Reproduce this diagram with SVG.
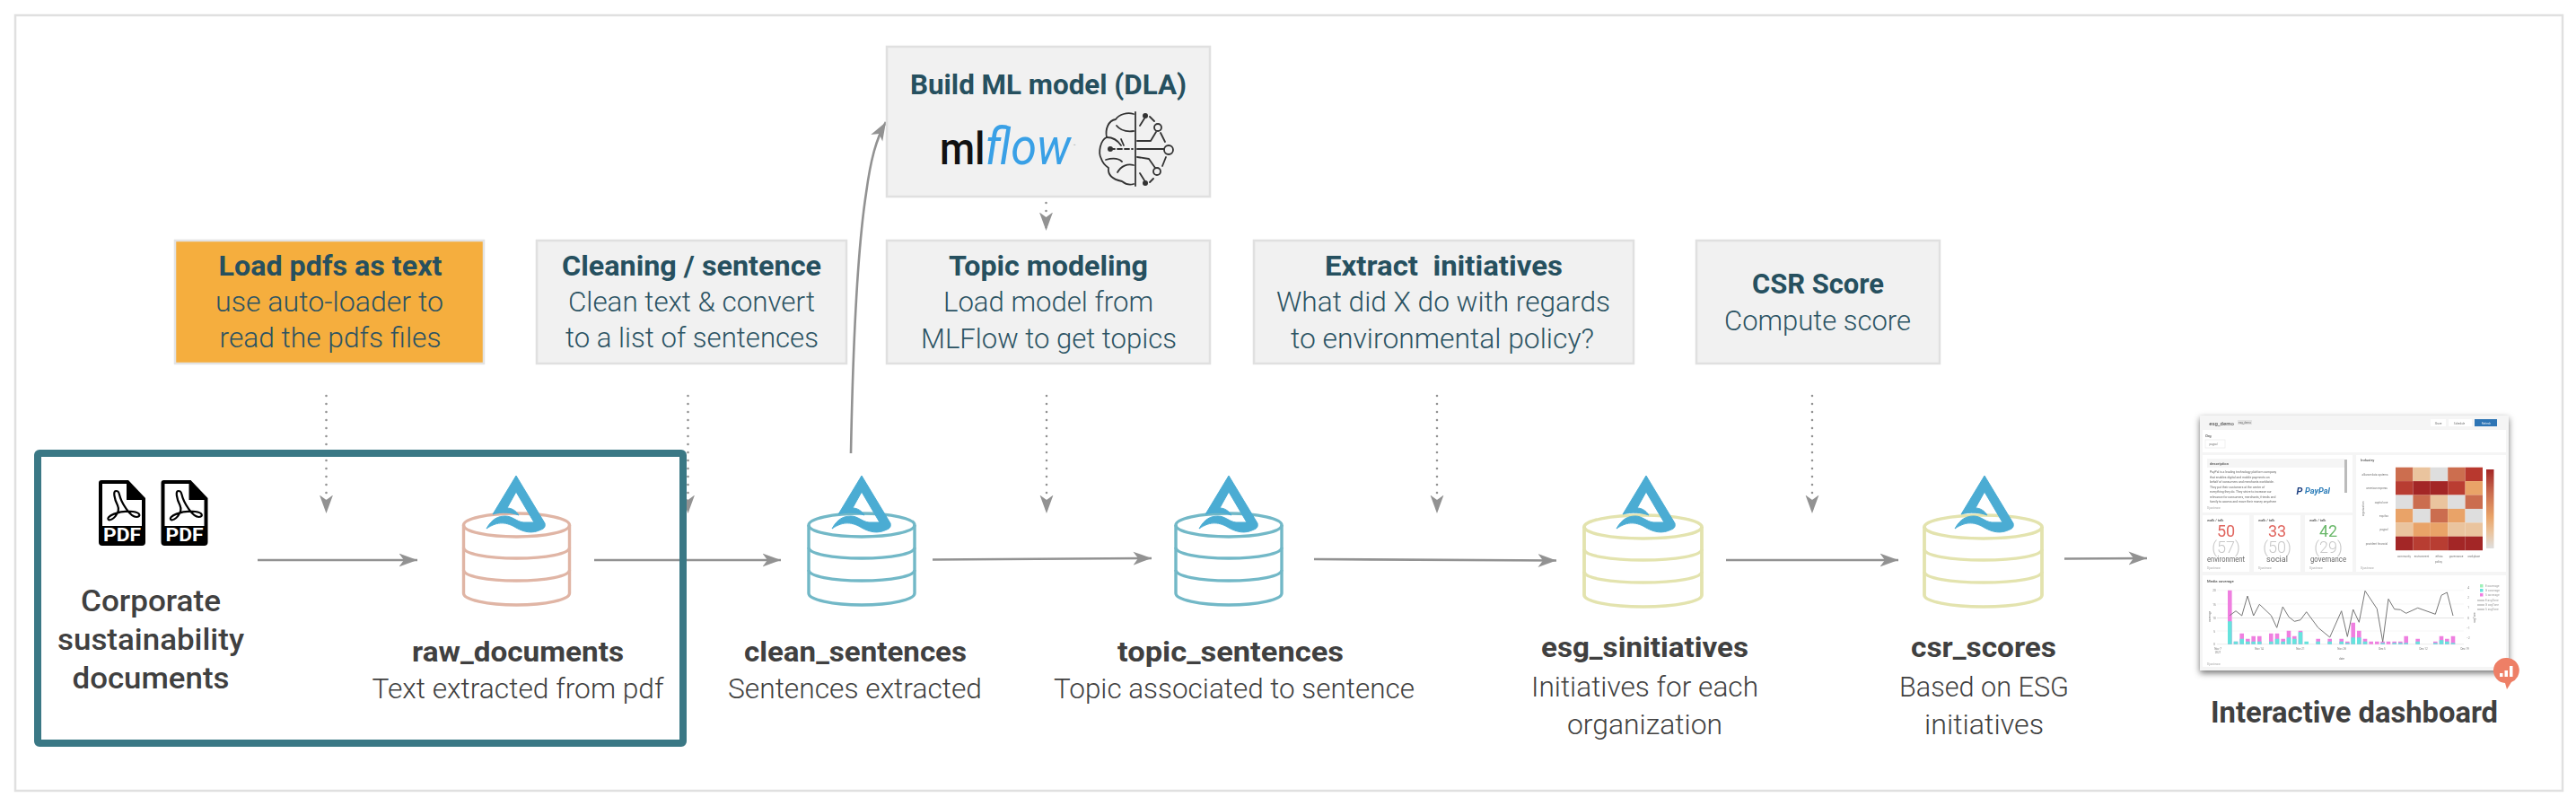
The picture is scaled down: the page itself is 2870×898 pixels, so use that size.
<svg xmlns="http://www.w3.org/2000/svg" width="2870" height="898" viewBox="0 0 2870 898">
<style>
text{font-family:Roboto,"Liberation Sans",sans-serif;text-anchor:middle}
.box{fill:#f1f1f1;stroke:#e0e0e0;stroke-width:2.5}
.t{font-size:31px;font-weight:700;fill:#26505f}
.b{font-size:31px;font-weight:300;fill:#2b5363}
.n{font-size:31px;font-weight:700;fill:#404040}
.d{font-size:31px;font-weight:300;fill:#404040}
.c{font-size:33px;font-weight:500;fill:#404040}
.solid{fill:none;stroke:#929292;stroke-width:2.6;marker-end:url(#head)}
.dot{fill:none;stroke:#929292;stroke-width:2.6;stroke-linecap:round;stroke-dasharray:0 9;marker-end:url(#head)}
.cyl{fill:none;stroke-width:3.4}
.logo{fill:#4bacd3;stroke:#4bacd3;stroke-width:1;stroke-linejoin:round}
.br{fill:none;stroke:#333;stroke-width:1.8;stroke-linecap:round;stroke-linejoin:round}
.tiny{font-size:3px;fill:#777;font-weight:400}
.lab{font-size:4.2px;fill:#555;font-weight:500;text-anchor:start}
.kp{font-size:4px;fill:#555;font-weight:500;text-anchor:start}
.nw{font-size:3.2px;fill:#999;text-anchor:start}
.desc{font-size:3.4px;fill:#666;text-anchor:start}
.kn{font-size:18px;font-weight:400}
.kg{font-size:18px;font-weight:300;fill:#c8c8c8}
.kl{font-size:9px;font-weight:400;fill:#666}
.panel{fill:#fff}
</style>
<defs>
<marker id="head" markerUnits="userSpaceOnUse" markerWidth="21" markerHeight="16" refX="20.5" refY="8" orient="auto"><path d="M0 0.5L20.5 8L0 15.5L5.5 8z" fill="#929292"/></marker>
<filter id="soft" x="-5%" y="-5%" width="110%" height="110%"><feGaussianBlur stdDeviation="0.45"/></filter>
<filter id="shot" x="-10%" y="-10%" width="120%" height="120%"><feDropShadow dx="0" dy="3" stdDeviation="3.5" flood-color="#000" flood-opacity="0.55"/></filter>
<filter id="blur" x="-2%" y="-2%" width="104%" height="104%"><feGaussianBlur stdDeviation="0.75"/></filter>
<linearGradient id="cb" x1="0" y1="0" x2="0" y2="1"><stop offset="0" stop-color="#a32525"/><stop offset="0.3" stop-color="#cb6d4f"/><stop offset="0.6" stop-color="#e9a368"/><stop offset="0.8" stop-color="#eac49e"/><stop offset="1" stop-color="#dedede"/></linearGradient>
<g id="cylinder"><ellipse cx="0" cy="0" rx="59" ry="13"/><path d="M-59 0V76C-59 83 -33 89 0 89S59 83 59 76V0"/><path d="M-59 25C-59 32 -33 37 0 37S59 32 59 25"/><path d="M-59 50C-59 57 -33 62 0 62S59 57 59 50"/></g>
<path id="lakelogo" d="M0 0L32 53C33 57 31 59 28 60C18 65 9 63 0 58C-10 52 -20 50 -33 59C-27 48 -20 45 -12 45C-4 45 0 51 8 52L20 52L0 18L-10 36C-5 36 0 39 3 44C-5 41 -16 40 -26 43Z"/>
<g id="pdf"><path d="M3 0H33L52 20V69Q52 73 48 73H4Q0 73 0 69V3Q0 0 3 0Z" fill="#000"/><path d="M4 4H31V22H48V51H4Z" fill="#fff"/><path d="M19 12C16 12 17 20 21 28C25 37 14 46 11 44C7 41 22 33 38 35C47 36 47 41 42 41C35 41 25 25 23 16C22 12 21 12 19 12Z" fill="none" stroke="#000" stroke-width="2.2"/><text x="26" y="68" font-size="21" font-weight="700" fill="#fff" textLength="42" lengthAdjust="spacingAndGlyphs">PDF</text></g>
</defs>
<rect id="frame" x="17" y="17" width="2838" height="864" fill="#fff" stroke="#e0e0e0" stroke-width="2.5"/>
<g id="connectors">
<path class="solid" d="M287 624H465"/>
<path class="solid" d="M662 624H870"/>
<path class="solid" d="M1039 623.5L1283 622"/>
<path class="solid" d="M1464 623L1734 624.5"/>
<path class="solid" d="M1923 624H2115"/>
<path class="solid" d="M2300 622.5L2392 622"/>
<path class="dot" d="M363.5 441V572"/>
<path class="dot" d="M766.5 441V572"/>
<path class="dot" d="M1166 441V572"/>
<path class="dot" d="M1601 441V572"/>
<path class="dot" d="M2019 441V572"/>
<path class="dot" d="M1165.5 226V257"/>
<path class="solid" d="M948 505C950 400 955 280 965 215C970 178 976 155 987 136"/>
</g>
<g id="step-load"><rect x="195" y="268" width="344" height="137" fill="#f5ae3e" stroke="#e3e3e3" stroke-width="2.5"/><text class="t" x="368" y="307" textLength="249" lengthAdjust="spacingAndGlyphs">Load pdfs as text</text><text class="b" x="367" y="347" textLength="254" lengthAdjust="spacingAndGlyphs">use auto-loader to</text><text class="b" x="368" y="387" textLength="247" lengthAdjust="spacingAndGlyphs">read the pdfs files</text></g>
<g id="step-clean"><rect class="box" x="598" y="268" width="345" height="137"/><text class="t" x="770.5" y="307" textLength="289" lengthAdjust="spacingAndGlyphs">Cleaning / sentence</text><text class="b" x="770.5" y="347" textLength="275" lengthAdjust="spacingAndGlyphs">Clean text &amp; convert</text><text class="b" x="771" y="387" textLength="282" lengthAdjust="spacingAndGlyphs">to a list of sentences</text></g>
<g id="step-build"><rect class="box" x="988" y="52" width="360" height="167"/><text class="t" x="1168" y="105" textLength="308" lengthAdjust="spacingAndGlyphs">Build ML model (DLA)</text>
<text x="1120" y="183" font-size="50" font-weight="500" fill="#111" textLength="146" lengthAdjust="spacingAndGlyphs">ml<tspan font-size="58" font-weight="400" font-style="italic" fill="#39a0e6">flow</tspan></text><text x="1197" y="164" font-size="5" fill="#999">™</text>
<g class="br"><path d="M1265 125V207"/><path d="M1263 127C1256 125 1247 127 1243 133C1235 134 1231 144 1233 153C1226 156 1223 170 1227 177C1229 183 1232 185 1235 187C1234 195 1240 200 1250 202C1255 206 1260 206 1263 205"/><path d="M1263 146C1255 147 1248 145 1244 140"/><path d="M1233 153C1240 153 1245 156 1249 162M1249 155L1252 162"/><path d="M1263 184C1256 182 1249 185 1245 192M1232 178C1239 176 1246 176 1250 180"/><path d="M1237 166H1262" stroke-dasharray="5 3"/><path d="M1267 166H1297"/><path d="M1267 157H1282L1288 147"/><path d="M1267 175L1280 177L1287 187"/><path d="M1270 140L1275 132M1281 130L1286 135M1293 148L1298 158M1299 175L1295 185M1285 199L1281 203M1270 193L1275 201"/><circle cx="1290" cy="142" r="4"/><circle cx="1302" cy="167" r="5"/><circle cx="1289" cy="191" r="4"/></g>
<circle cx="1276" cy="129" r="3" fill="#333"/><circle cx="1276" cy="204" r="3" fill="#333"/><circle cx="1237" cy="166" r="3" fill="#333"/></g>
<g id="step-topic"><rect class="box" x="988" y="268" width="360" height="137"/><text class="t" x="1168" y="307" textLength="222" lengthAdjust="spacingAndGlyphs">Topic modeling</text><text class="b" x="1168" y="347" textLength="234" lengthAdjust="spacingAndGlyphs">Load model from</text><text class="b" x="1168.5" y="388" textLength="285" lengthAdjust="spacingAndGlyphs">MLFlow to get topics</text></g>
<g id="step-extract"><rect class="box" x="1397" y="268" width="423" height="137"/><text class="t" x="1608.5" y="307" textLength="265" lengthAdjust="spacingAndGlyphs" xml:space="preserve">Extract  initiatives</text><text class="b" x="1608" y="347" textLength="372" lengthAdjust="spacingAndGlyphs">What did X do with regards</text><text class="b" x="1607" y="388" textLength="338" lengthAdjust="spacingAndGlyphs">to environmental policy?</text></g>
<g id="step-csr"><rect class="box" x="1890" y="268" width="271" height="137"/><text class="t" x="2025.5" y="327" textLength="147" lengthAdjust="spacingAndGlyphs">CSR Score</text><text class="b" x="2025" y="368" textLength="208" lengthAdjust="spacingAndGlyphs">Compute score</text></g>
<g id="source-docs"><use href="#pdf" x="110" y="535"/><use href="#pdf" x="179.500" y="535"/><text class="c" x="168" y="681" textLength="156" lengthAdjust="spacingAndGlyphs">Corporate</text><text class="c" x="168" y="724" textLength="208" lengthAdjust="spacingAndGlyphs">sustainability</text><text class="c" x="168" y="767" textLength="175" lengthAdjust="spacingAndGlyphs">documents</text></g>
<g id="raw_documents"><g filter="url(#soft)"><use href="#cylinder" class="cyl" stroke="#e0b5a5" transform="translate(575.500 585)"/></g><use href="#lakelogo" class="logo" x="575" y="530"/><text class="n" x="577" y="737" textLength="236" lengthAdjust="spacingAndGlyphs">raw_documents</text><text class="d" x="577" y="778" textLength="325" lengthAdjust="spacingAndGlyphs">Text extracted from pdf</text></g>
<g id="clean_sentences"><g filter="url(#soft)"><use href="#cylinder" class="cyl" stroke="#72b8c7" transform="translate(960 585)"/></g><use href="#lakelogo" class="logo" x="960" y="530"/><text class="n" x="953" y="737" textLength="248" lengthAdjust="spacingAndGlyphs">clean_sentences</text><text class="d" x="952.500" y="778" textLength="283" lengthAdjust="spacingAndGlyphs">Sentences extracted</text></g>
<g id="topic_sentences"><g filter="url(#soft)"><use href="#cylinder" class="cyl" stroke="#72b8c7" transform="translate(1369 585)"/></g><use href="#lakelogo" class="logo" x="1369" y="530"/><text class="n" x="1371" y="737" textLength="252" lengthAdjust="spacingAndGlyphs">topic_sentences</text><text class="d" x="1375" y="778" textLength="402" lengthAdjust="spacingAndGlyphs">Topic associated to sentence</text></g>
<g id="esg_sinitiatives"><g filter="url(#soft)"><use href="#cylinder" class="cyl" stroke="#e3e3ae" transform="translate(1830.500 587) scale(1.11 1)"/></g><use href="#lakelogo" class="logo" x="1834" y="530"/><text class="n" x="1832.500" y="732" textLength="231" lengthAdjust="spacingAndGlyphs">esg_sinitiatives</text><text class="d" x="1832.500" y="776" textLength="253" lengthAdjust="spacingAndGlyphs">Initiatives for each</text><text class="d" x="1832.500" y="818" textLength="173" lengthAdjust="spacingAndGlyphs">organization</text></g>
<g id="csr_scores"><g filter="url(#soft)"><use href="#cylinder" class="cyl" stroke="#e3e3ae" transform="translate(2209.500 587) scale(1.11 1)"/></g><use href="#lakelogo" class="logo" x="2211" y="530"/><text class="n" x="2210" y="732" textLength="162" lengthAdjust="spacingAndGlyphs">csr_scores</text><text class="d" x="2210.500" y="776" textLength="189" lengthAdjust="spacingAndGlyphs">Based on ESG</text><text class="d" x="2210.500" y="818" textLength="133" lengthAdjust="spacingAndGlyphs">initiatives</text></g>
<g id="dashboard">
<rect x="2451" y="463" width="344" height="284" fill="#f5f5f5" filter="url(#shot)"/>
<g filter="url(#blur)">
<text x="2475" y="474" font-size="6" font-weight="500" fill="#555">esg_demo</text>
<rect x="2493" y="468" width="16" height="5" fill="#e3e3e3"/><text class="tiny" x="2501" y="472">esg_demo</text>
<rect x="2708" y="467" width="17" height="8" fill="#fff"/><text class="tiny" x="2716.500" y="472.500">Share</text>
<rect x="2728" y="467" width="26" height="8" fill="#fff"/><text class="tiny" x="2740" y="472.500">Schedule</text>
<rect x="2757" y="467" width="25" height="8" fill="#2f74b5"/><text class="tiny" x="2770" y="472.500" style="fill:#dfe9f3">Refresh</text>
<rect class="panel" x="2454" y="479" width="338" height="25"/><text class="lab" x="2457" y="487">Org</text><rect x="2457" y="490" width="22" height="9" fill="#fff" stroke="#e8e8e8" stroke-width="0.6"/><text class="tiny" x="2466" y="495.500">paypal</text>
<rect class="panel" x="2454" y="507" width="167" height="64"/><rect x="2459" y="511" width="153" height="10" fill="#f5f5f5"/><text class="lab" x="2462" y="517.500">description</text>
<rect x="2612" y="512" width="3" height="37" fill="#bbb"/>
<g class="desc"><text class="desc" x="2462" y="527">PayPal is a leading technology platform company</text><text class="desc" x="2462" y="532.500">that enables digital and mobile payments on</text><text class="desc" x="2462" y="538">behalf of consumers and merchants worldwide.</text><text class="desc" x="2462" y="543.500">They put their customers at the center of</text><text class="desc" x="2462" y="549">everything they do. They strive to increase our</text><text class="desc" x="2462" y="554.500">relevance for consumers, merchants, friends and</text><text class="desc" x="2462" y="560">family to access and move their money anywhere</text></g>
<text x="2582" y="550" font-size="9" font-weight="700" font-style="italic" fill="#2a7bb8" textLength="28" lengthAdjust="spacingAndGlyphs">PayPal</text><text x="2562" y="551" font-size="11" font-weight="700" font-style="italic" fill="#1f3f80">P</text>
<text class="nw" x="2459" y="567">0 just now</text>
<rect class="panel" x="2454" y="574" width="52" height="63"/><rect class="panel" x="2511" y="574" width="52" height="63"/><rect class="panel" x="2568" y="574" width="53" height="63"/>
<text class="kp" x="2459" y="581">walk / talk</text><text class="kp" x="2516" y="581">walk / talk</text><text class="kp" x="2573" y="581">walk / talk</text>
<text class="kn" x="2480" y="598" fill="#e0655e">50</text><text class="kg" x="2480" y="616">(57)</text><text class="kl" x="2480" y="626" textLength="42" lengthAdjust="spacingAndGlyphs">environment</text>
<text class="kn" x="2537" y="598" fill="#e0655e">33</text><text class="kg" x="2537" y="616">(50)</text><text class="kl" x="2537" y="626">social</text>
<text class="kn" x="2594" y="598" fill="#6ab86a">42</text><text class="kg" x="2594" y="616">(29)</text><text class="kl" x="2594" y="626" textLength="40" lengthAdjust="spacingAndGlyphs">governance</text>
<text class="nw" x="2459" y="634">0 just now</text><text class="nw" x="2516" y="634">0 just now</text><text class="nw" x="2573" y="634">0 just now</text>
<rect class="panel" x="2625" y="507" width="167" height="130"/><text class="lab" x="2630" y="514">Industry</text>
<g id="heatmap">
<rect x="2669" y="520.700" width="19.400" height="15.500" fill="#cc6e50"/><rect x="2688.400" y="520.700" width="19.400" height="15.500" fill="#eac49e"/><rect x="2707.800" y="520.700" width="19.400" height="15.500" fill="#dedede"/><rect x="2727.200" y="520.700" width="19.400" height="15.500" fill="#cc6e50"/><rect x="2746.600" y="520.700" width="19.400" height="15.500" fill="#b8392f"/>
<rect x="2669" y="536.100" width="19.400" height="15.500" fill="#b83d33"/><rect x="2688.400" y="536.100" width="19.400" height="15.500" fill="#a32525"/><rect x="2707.800" y="536.100" width="19.400" height="15.500" fill="#a32525"/><rect x="2727.200" y="536.100" width="19.400" height="15.500" fill="#ba3c32"/><rect x="2746.600" y="536.100" width="19.400" height="15.500" fill="#e9a368"/>
<rect x="2669" y="551.500" width="19.400" height="15.500" fill="#dedede"/><rect x="2688.400" y="551.500" width="19.400" height="15.500" fill="#cb6d4f"/><rect x="2707.800" y="551.500" width="19.400" height="15.500" fill="#eac49e"/><rect x="2727.200" y="551.500" width="19.400" height="15.500" fill="#dedede"/><rect x="2746.600" y="551.500" width="19.400" height="15.500" fill="#cb6d4f"/>
<rect x="2669" y="566.900" width="19.400" height="15.500" fill="#e9a368"/><rect x="2688.400" y="566.900" width="19.400" height="15.500" fill="#dedede"/><rect x="2707.800" y="566.900" width="19.400" height="15.500" fill="#cb6d4f"/><rect x="2727.200" y="566.900" width="19.400" height="15.500" fill="#e9a368"/><rect x="2746.600" y="566.900" width="19.400" height="15.500" fill="#dedede"/>
<rect x="2669" y="582.300" width="19.400" height="15.500" fill="#eac49e"/><rect x="2688.400" y="582.300" width="19.400" height="15.500" fill="#e9a368"/><rect x="2707.800" y="582.300" width="19.400" height="15.500" fill="#e9a368"/><rect x="2727.200" y="582.300" width="19.400" height="15.500" fill="#eac49e"/><rect x="2746.600" y="582.300" width="19.400" height="15.500" fill="#eac49e"/>
<rect x="2669" y="597.700" width="19.400" height="15.500" fill="#a32525"/><rect x="2688.400" y="597.700" width="19.400" height="15.500" fill="#b83d33"/><rect x="2707.800" y="597.700" width="19.400" height="15.500" fill="#b83d33"/><rect x="2727.200" y="597.700" width="19.400" height="15.500" fill="#a32525"/><rect x="2746.600" y="597.700" width="19.400" height="15.500" fill="#a32525"/>
</g>
<rect x="2770" y="523" width="8.500" height="88" fill="url(#cb)"/>
<g class="tiny"><text class="tiny" x="2646" y="529.500">alliance data systems</text><text class="tiny" x="2648" y="545">american express</text><text class="tiny" x="2653" y="560.500">capital one</text><text class="tiny" x="2656" y="576">equifax</text><text class="tiny" x="2656" y="591">paypal</text><text class="tiny" x="2648" y="607">provident financial</text></g>
<text class="tiny" x="2678.500" y="620.500">community</text><text class="tiny" x="2698" y="620.500">environment</text><text class="tiny" x="2717.500" y="620.500">ethics</text><text class="tiny" x="2736.500" y="620.500">governance</text><text class="tiny" x="2756" y="620.500">workplace</text><text class="tiny" x="2717" y="626.500">policy</text>
<text class="tiny" transform="translate(2634 567) rotate(-90)">organization</text>
<text class="nw" x="2630" y="634">0 just now</text>
<rect class="panel" x="2454" y="641" width="338" height="102"/><text class="lab" x="2459" y="649">Media coverage</text>
<path d="M2470 657.700H2745M2470 673H2745M2470 703H2745" stroke="#f2f2f2" stroke-width="0.6" fill="none"/><path d="M2470 688.500H2745" stroke="#e4e4e4" stroke-width="1.200" fill="none"/><path d="M2470 717.700H2745" stroke="#ddd" stroke-width="0.6" fill="none"/>
<path fill="#ef7fe0" d="M2482 657.700h4.600V717.700h-4.600zM2488.700 714.700h4.600V717.700h-4.600zM2495.400 705.700h4.600V717.700h-4.600zM2502 711.700h4.600V717.700h-4.600zM2508.400 708.700h4.600V717.700h-4.600zM2515 708.700h4.600V717.700h-4.600zM2528 705.700h4.600V717.700h-4.600zM2534.700 705.700h4.600V717.700h-4.600zM2541.400 711.700h4.600V717.700h-4.600zM2547.700 702.700h4.600V717.700h-4.600zM2554 708.700h4.600V717.700h-4.600zM2560.700 702.700h4.600V717.700h-4.600zM2580.400 711.700h4.600V717.700h-4.600zM2593.400 711.700h4.600V717.700h-4.600zM2606.400 711.700h4.600V717.700h-4.600zM2613 714.700h4.600V717.700h-4.600zM2619.400 693.700h4.600V717.700h-4.600zM2626 702.700h4.600V717.700h-4.600zM2632.700 711.700h4.600V717.700h-4.600zM2639.400 714.700h4.600V717.700h-4.600zM2646 714.700h4.600V717.700h-4.600zM2652.400 714.700h4.600V717.700h-4.600zM2658.700 714.700h4.600V717.700h-4.600zM2665.400 714.700h4.600V717.700h-4.600zM2672 714.700h4.600V717.700h-4.600zM2678.400 708.700h4.600V717.700h-4.600zM2691.400 711.700h4.600V717.700h-4.600zM2711 714.700h4.600V717.700h-4.600zM2717.700 708.700h4.600V717.700h-4.600zM2724 711.700h4.600V717.700h-4.600zM2730.700 708.700h4.600V717.700h-4.600z"/>
<path fill="#66e3dd" d="M2482 692.200h4.600V717.700h-4.600zM2488.700 714.700h4.600V717.700h-4.600zM2495.400 711.700h4.600V717.700h-4.600zM2502 714.700h4.600V717.700h-4.600zM2508.400 714.700h4.600V717.700h-4.600zM2515 714.700h4.600V717.700h-4.600zM2528 714.700h4.600V717.700h-4.600zM2534.700 711.700h4.600V717.700h-4.600zM2541.400 714.700h4.600V717.700h-4.600zM2547.700 710.200h4.600V717.700h-4.600zM2554 711.700h4.600V717.700h-4.600zM2560.700 704.200h4.600V717.700h-4.600zM2567.400 714.700h4.600V717.700h-4.600zM2580.400 714.700h4.600V717.700h-4.600zM2593.400 714.700h4.600V717.700h-4.600zM2606.400 714.700h4.600V717.700h-4.600zM2613 716.200h4.600V717.700h-4.600zM2619.400 710.200h4.600V717.700h-4.600zM2626 710.200h4.600V717.700h-4.600zM2632.700 714.700h4.600V717.700h-4.600zM2652.400 716.200h4.600V717.700h-4.600zM2665.400 716.200h4.600V717.700h-4.600zM2672 716.200h4.600V717.700h-4.600zM2678.400 716.200h4.600V717.700h-4.600zM2691.400 714.700h4.600V717.700h-4.600zM2711 716.200h4.600V717.700h-4.600zM2717.700 713.200h4.600V717.700h-4.600zM2724 714.700h4.600V717.700h-4.600zM2730.700 716.200h4.600V717.700h-4.600z"/>
<polyline fill="none" stroke="#777" stroke-width="1" points="2484.300,685.700 2491,680.700 2497.700,686 2504,664 2510.700,686 2517.300,673.300 2530.300,685.700 2536.700,699.300 2543.300,676 2550,687.300 2556.300,692.300 2563,690.700 2569.700,681.700 2582.700,699.300 2595.700,710 2608.700,680.700 2615.300,709.300 2621.700,679 2628.300,693.300 2635,658.300 2648.300,678.300 2654.700,715 2661,667.300 2667.700,678.700 2674.300,679.300 2680.700,683.300 2693.700,677.300 2713.300,684.300 2720,663.300 2726.300,660 2733,686"/>
<text class="tiny" x="2467" y="659">20</text><text class="tiny" x="2467" y="674.500">15</text><text class="tiny" x="2467" y="689.500">10</text><text class="tiny" x="2467" y="704.500">5</text><text class="tiny" x="2467" y="719">0</text>
<text class="tiny" transform="translate(2463 687) rotate(-90)">coverage</text>
<text class="tiny" x="2750" y="656">4</text><text class="tiny" x="2750" y="667">2</text><text class="tiny" x="2750" y="678">1</text><text class="tiny" x="2750" y="689.500">0</text><text class="tiny" x="2750" y="701">−1</text><text class="tiny" x="2750" y="712">−2</text>
<text class="tiny" transform="translate(2758 688) rotate(-90)">avgTone</text>
<text class="tiny" x="2471" y="724">Nov 7</text><text class="tiny" x="2471" y="728">2021</text><text class="tiny" x="2517" y="724">Nov 14</text><text class="tiny" x="2563" y="724">Nov 21</text><text class="tiny" x="2609" y="724">Nov 28</text><text class="tiny" x="2654" y="724">Dec 5</text><text class="tiny" x="2700" y="724">Dec 12</text><text class="tiny" x="2746" y="724">Dec 19</text><text class="tiny" x="2609" y="734.500">date</text>
<rect x="2763" y="651" width="3.500" height="3.500" fill="#9ef0b8"/><rect x="2763" y="656" width="3.500" height="3.500" fill="#66e3dd"/><rect x="2763" y="661" width="3.500" height="3.500" fill="#ef7fe0"/><path d="M2760 669H2768M2760 674H2768M2760 679H2768" stroke="#777" stroke-width="0.7"/>
<g><text class="nw" x="2769" y="654">E coverage</text><text class="nw" x="2769" y="659">G coverage</text><text class="nw" x="2769" y="664">S coverage</text><text class="nw" x="2769" y="670">E avgTone</text><text class="nw" x="2769" y="675">G avgTone</text><text class="nw" x="2769" y="680">S avgTone</text></g>
<text class="nw" x="2459" y="741">0 just now</text>
</g>
<path d="M2793 733A14 14 0 0 1 2798 760L2793 768L2791 761A14 14 0 0 1 2793 733Z" fill="#ee7f66"/>
<path d="M2785 750h3.500v4h-3.500zM2790.500 747h3.500v7h-3.500zM2796 742h3.500v12h-3.500z" fill="#fff"/>
<text class="c" x="2623" y="805" textLength="320" lengthAdjust="spacingAndGlyphs" style="font-weight:700">Interactive dashboard</text>
</g>
<rect id="highlight" x="42" y="505" width="719" height="323" rx="2" fill="none" stroke="#3a7885" stroke-width="8"/>
</svg>
